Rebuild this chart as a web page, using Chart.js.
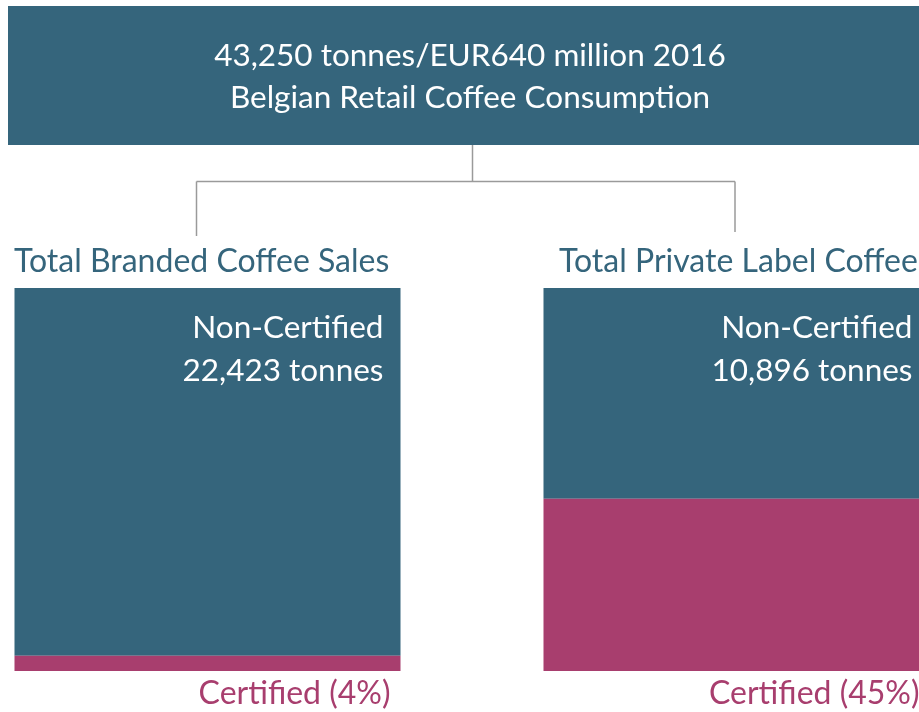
<!DOCTYPE html>
<html>
<head>
<meta charset="utf-8">
<script src="https://cdn.jsdelivr.net/npm/chart.js@4.4.1/dist/chart.umd.min.js"></script>
<style>
  html, body { margin:0; padding:0; background:#fff; overflow:hidden; }
  #wrap { position:relative; width:919px; height:712px; overflow:hidden; }
  #chart { position:absolute; left:-57px; top:0; }
</style>
</head>
<body>
<div id="wrap"><canvas id="chart" width="1058" height="712"></canvas></div>
<script>
// data
const categories = ['Total Branded Coffee Sales', 'Total Private Label Coffee Sales'];
const certifiedPct = [4, 45];
const nonCertifiedPct = [96, 55];
const nonCertifiedTonnes = ['22,423', '10,896'];
const headerLines = ['43,250 tonnes/EUR640 million 2016', 'Belgian Retail Coffee Consumption'];

const TEAL = '#35657c';
const PLUM = '#a83e6e';
const FONT = 'Lato, "Open Sans", sans-serif';
const OX = 57; // canvas is shifted left by this much

const diagram = {
  id: 'diagram',
  beforeDraw(chart) {
    const ctx = chart.ctx;
    ctx.save();
    // header box
    ctx.fillStyle = TEAL;
    ctx.fillRect(8 + OX, 6, 924, 139);
    ctx.fillStyle = '#fff';
    ctx.font = '31.5px ' + FONT;
    ctx.textAlign = 'center';
    ctx.textBaseline = 'alphabetic';
    ctx.fillText(headerLines[0], 470 + OX, 66);
    ctx.fillText(headerLines[1], 470 + OX, 108);
    // connectors
    ctx.strokeStyle = '#9a9a9a';
    ctx.lineWidth = 1.5;
    ctx.beginPath();
    ctx.moveTo(472.5 + OX, 145); ctx.lineTo(472.5 + OX, 181.5);
    ctx.moveTo(196.5 + OX, 181.5); ctx.lineTo(735 + OX, 181.5);
    ctx.moveTo(196.5 + OX, 181.5); ctx.lineTo(196.5 + OX, 236);
    ctx.moveTo(735 + OX, 181.5); ctx.lineTo(735 + OX, 232);
    ctx.stroke();
    // section titles
    ctx.fillStyle = TEAL;
    ctx.textAlign = 'left';
    ctx.font = '32px ' + FONT;
    ctx.fillText(categories[0], 14 + OX, 272);
    ctx.fillText(categories[1], 559 + OX, 272);
    ctx.restore();
  },
  afterDatasetsDraw(chart) {
    const ctx = chart.ctx;
    const top = chart.getDatasetMeta(1).data;
    const bottom = chart.getDatasetMeta(0).data;
    ctx.save();
    ctx.textAlign = 'right';
    ctx.textBaseline = 'alphabetic';
    top.forEach((bar, i) => {
      const right = bar.x + bar.width / 2;
      ctx.font = '31.5px ' + FONT;
      ctx.fillStyle = '#fff';
      ctx.fillText('Non-Certified', right - 17, bar.y + 50);
      ctx.fillText(nonCertifiedTonnes[i] + ' tonnes', right - 17, bar.y + 93);
      const b = bottom[i];
      ctx.font = '32px ' + FONT;
      ctx.fillStyle = PLUM;
      ctx.fillText('Certified (' + certifiedPct[i] + '%)', right - 10, b.base + 33);
    });
    ctx.restore();
  }
};

new Chart(document.getElementById('chart').getContext('2d'), {
  type: 'bar',
  data: {
    labels: categories,
    datasets: [
      { label: 'Certified', data: certifiedPct, backgroundColor: PLUM },
      { label: 'Non-Certified', data: nonCertifiedPct, backgroundColor: TEAL }
    ]
  },
  options: {
    responsive: false,
    animation: false,
    devicePixelRatio: 1,
    layout: { padding: { top: 288, bottom: 41, left: 0, right: 0 } },
    datasets: { bar: { barPercentage: 1, categoryPercentage: 0.7297, borderWidth: 0 } },
    plugins: { legend: { display: false }, tooltip: { enabled: false } },
    scales: {
      x: { stacked: true, display: false },
      y: { stacked: true, display: false, min: 0, max: 100 }
    }
  },
  plugins: [diagram]
});
</script>
</body>
</html>
